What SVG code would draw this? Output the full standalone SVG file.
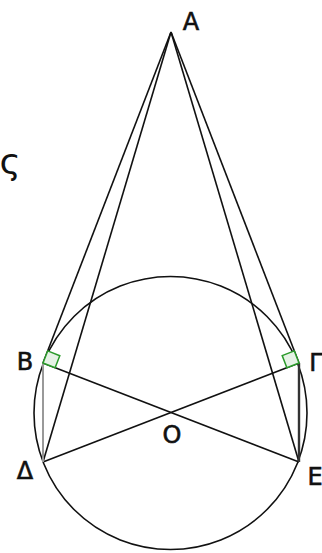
<svg xmlns="http://www.w3.org/2000/svg" width="322" height="553" viewBox="0 0 322 553">
<style>
.ln{stroke:#111;stroke-width:1.6;fill:none}
.rt{stroke:#2a9a2a;stroke-width:1.5;fill:#e6f2e6}
.lb{font-family:"DejaVu Sans",sans-serif;font-size:24px;fill:#111;stroke:#111;stroke-width:0.6;text-anchor:middle}
.sg{font-family:"DejaVu Sans",sans-serif;font-size:36px;fill:#111;text-anchor:middle}
</style>
<rect width="322" height="553" fill="#fff"/>
<g id="connectors">
<circle id="circle" class="ln" cx="170.5" cy="413" r="136.5"/>
<line class="ln" x1="171" y1="32" x2="43" y2="363"/>
<line class="ln" x1="171" y1="32" x2="43" y2="462"/>
<line class="ln" x1="171" y1="32" x2="299" y2="363"/>
<line class="ln" x1="171" y1="32" x2="299" y2="462"/>
<line class="ln" x1="43" y1="363" x2="299" y2="462"/>
<line class="ln" x1="299" y1="363" x2="43" y2="462"/>
<line x1="43" y1="363" x2="43" y2="462" stroke="#999" stroke-width="2"/>
<line x1="299" y1="363" x2="299" y2="462" stroke="#333" stroke-width="2.4"/>
</g>
<g id="rightB"><polygon class="rt" points="43,363 47.7,350.9 59.8,355.7 55.1,367.8"/></g>
<g id="rightG"><polygon class="rt" points="299,363 294.3,350.9 282.2,355.6 286.9,367.7"/></g>
<g id="nA"><text class="lb" x="191" y="30">A</text></g>
<g id="nB"><text class="lb" x="25" y="370">B</text></g>
<g id="nG"><text class="lb" x="316" y="371">Γ</text></g>
<g id="nD"><text class="lb" x="25" y="479">Δ</text></g>
<g id="nE"><text class="lb" x="315" y="485">E</text></g>
<g id="nO"><text class="lb" x="172" y="443">O</text></g>
<g id="sigma"><text class="sg" x="10" y="174">ς</text></g>
</svg>
